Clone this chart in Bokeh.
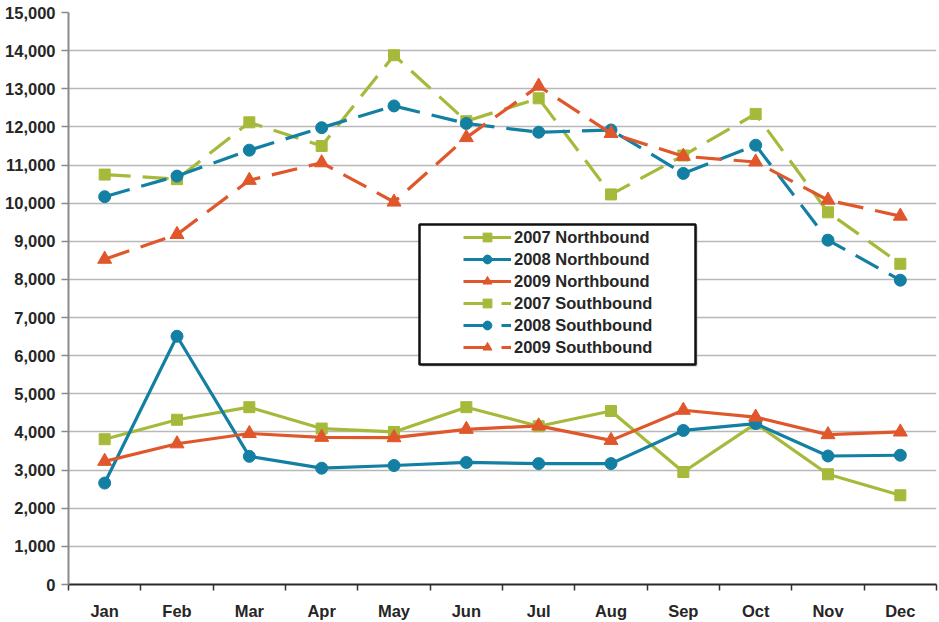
from bokeh.plotting import figure
from bokeh.models import (ColumnDataSource, Legend, LegendItem, FixedTicker,
                          NumeralTickFormatter, BoxAnnotation, Range1d)
from bokeh.embed import file_html
from bokeh.resources import INLINE

months = ["Jan", "Feb", "Mar", "Apr", "May", "Jun", "Jul", "Aug", "Sep", "Oct", "Nov", "Dec"]
nb_2007 = [3810, 4320, 4650, 4090, 4000, 4650, 4150, 4550, 2950, 4220, 2890, 2340]
nb_2008 = [2660, 6510, 3360, 3050, 3120, 3200, 3170, 3170, 4040, 4220, 3370, 3390]
nb_2009 = [3230, 3690, 3960, 3860, 3850, 4070, 4160, 3780, 4570, 4390, 3930, 4000]
sb_2007 = [10750, 10630, 12120, 11500, 13880, 12150, 12750, 10230, 11250, 12340, 9760, 8410]
sb_2008 = [10170, 10710, 11390, 11980, 12550, 12090, 11860, 11920, 10780, 11520, 9030, 7980]
sb_2009 = [8530, 9180, 10600, 11060, 10030, 11720, 13070, 11830, 11230, 11080, 10080, 9660]
y_ticks = list(range(0, 15001, 1000))

GREEN = "#A7B93A"
BLUE = "#137FA2"
RED = "#E0572B"
FONT = "Liberation Sans"
TXT = "#262626"

xs = [i + 1 for i in range(len(months))]

p = figure(width=939, height=622, output_backend="svg", toolbar_location=None,
           x_range=Range1d(0.5, len(months) + 0.5), y_range=Range1d(0, 15000),
           min_border_left=68, min_border_right=3, min_border_top=12, min_border_bottom=38)
p.outline_line_color = None
p.background_fill_color = "white"
p.border_fill_color = "white"

# grid
p.xgrid.grid_line_color = None
p.ygrid.grid_line_color = "#B8B8B8"
p.ygrid.grid_line_width = 1.3
p.ygrid.ticker = FixedTicker(ticks=y_ticks)

# y axis
p.yaxis.ticker = FixedTicker(ticks=y_ticks)
p.yaxis.formatter = NumeralTickFormatter(format="0,0")
p.yaxis.axis_line_color = "#8A8A8A"
p.yaxis.axis_line_width = 2
p.yaxis.major_tick_line_color = "#8A8A8A"
p.yaxis.major_tick_line_width = 1.5
p.yaxis.major_tick_out = 7
p.yaxis.major_tick_in = 0
p.yaxis.minor_tick_line_color = None
p.yaxis.major_label_standoff = 6
p.yaxis.major_label_text_font = FONT
p.yaxis.major_label_text_font_style = "bold"
p.yaxis.major_label_text_font_size = "16.5px"
p.yaxis.major_label_text_color = TXT

# x axis: labels at centers, ticks at category boundaries
p.xaxis.ticker = FixedTicker(ticks=xs, minor_ticks=[x - 0.5 for x in xs] + [xs[-1] + 0.5])
p.xaxis.major_label_overrides = {x: m for x, m in zip(xs, months)}
p.xaxis.major_tick_line_color = None
p.xaxis.major_tick_out = 0
p.xaxis.major_tick_in = 0
p.xaxis.minor_tick_line_color = "#333333"
p.xaxis.minor_tick_line_width = 1.5
p.xaxis.minor_tick_out = 6
p.xaxis.minor_tick_in = 0
p.xaxis.axis_line_color = "#2A2A2A"
p.xaxis.axis_line_width = 2
p.xaxis.major_label_standoff = 11
p.xaxis.major_label_text_font = FONT
p.xaxis.major_label_text_font_style = "bold"
p.xaxis.major_label_text_font_size = "16.5px"
p.xaxis.major_label_text_color = TXT

series = [
    ("2007 Northbound", nb_2007, GREEN, "square", 11, "solid"),
    ("2008 Northbound", nb_2008, BLUE, "circle", 12, "solid"),
    ("2009 Northbound", nb_2009, RED, "triangle", 14, "solid"),
    ("2007 Southbound", sb_2007, GREEN, "square", 11, "26 12"),
    ("2008 Southbound", sb_2008, BLUE, "circle", 12, "26 12"),
    ("2009 Southbound", sb_2009, RED, "triangle", 14, "26 12"),
]

items = []
for name, vals, color, marker, size, dash in series:
    src = ColumnDataSource(data=dict(x=xs, y=vals))
    ln = p.line("x", "y", source=src, line_color=color, line_width=3.2, line_dash=dash)
    sc = p.scatter("x", "y", source=src, marker=marker, size=size,
                   fill_color=color, line_color=color)
    items.append(LegendItem(label=name, renderers=[ln, sc]))

# legend frame (white box with black border and soft shadow)
shadow = BoxAnnotation(left=353, right=629, bottom=218, top=358,
                       left_units="screen", right_units="screen",
                       top_units="screen", bottom_units="screen",
                       fill_color="#9A9A9A", fill_alpha=0.6, line_color=None)
box = BoxAnnotation(left=351, right=627, bottom=220, top=360,
                    left_units="screen", right_units="screen",
                    top_units="screen", bottom_units="screen",
                    fill_color="white", fill_alpha=1.0,
                    line_color="#111111", line_width=2.5, line_alpha=1.0)
p.add_layout(shadow)
p.add_layout(box)

legend = Legend(items=items, location=(395, 226), orientation="vertical",
                border_line_color=None, background_fill_alpha=0.0,
                padding=0, spacing=0, margin=0,
                glyph_width=48, glyph_height=22, label_height=22,
                label_standoff=3,
                label_text_font=FONT, label_text_font_style="bold",
                label_text_font_size="16.5px", label_text_color=TXT)
p.add_layout(legend)

open("out.html", "w").write(file_html(p, INLINE))
